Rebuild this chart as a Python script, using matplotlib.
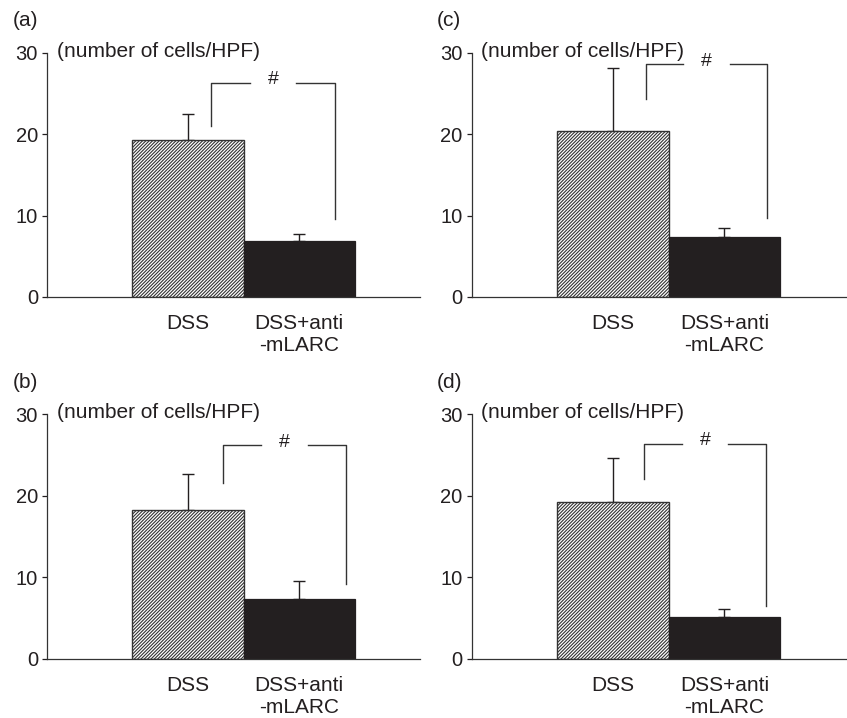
import matplotlib
matplotlib.use("Agg")
import matplotlib.pyplot as plt

plt.rcParams["font.family"] = ["Liberation Sans", "DejaVu Sans"]
plt.rcParams["hatch.linewidth"] = 0.8

# panels in order (a), (b), (c), (d)
panels = ["(a)", "(b)", "(c)", "(d)"]
groups = ["DSS", "DSS+anti\n-mLARC"]
dss_mean = [19.3, 18.3, 20.4, 19.3]
dss_err = [3.2, 4.4, 7.8, 5.3]
anti_mean = [6.9, 7.3, 7.4, 5.1]
anti_err = [0.8, 2.25, 1.1, 1.0]
# significance bracket: top level, left foot, right foot
br_top = [26.3, 26.2, 28.6, 26.4]
br_left = [21.0, 21.6, 24.3, 22.1]
br_right = [9.6, 9.2, 9.75, 6.5]
yticks = [0, 10, 20, 30]

# layout (figure fractions) and bracket x-positions per panel
rects = {
    "(a)": [0.0555, 0.5864, 0.4404, 0.3398],
    "(c)": [0.5569, 0.5864, 0.4431, 0.3398],
    "(b)": [0.0555, 0.0822, 0.4404, 0.3408],
    "(d)": [0.5569, 0.0822, 0.4431, 0.3408],
}
br_x = [(0.21, 1.32), (0.315, 1.42), (0.295, 1.38), (0.28, 1.37)]
label_pos = {"(a)": (0.015, 0.972), "(c)": (0.516, 0.972),
             "(b)": (0.015, 0.467), "(d)": (0.516, 0.467)}

ink = "#231f20"
fs = 15

fig = plt.figure(figsize=(8.47, 7.18), dpi=100)

for i, p in enumerate(panels):
    ax = fig.add_axes(rects[p])
    ax.bar([0], [dss_mean[i]], width=1.0, color="white", edgecolor="#333333",
           hatch="//////////", linewidth=1.0, zorder=2)
    ax.bar([1], [anti_mean[i]], width=1.0, color=ink, edgecolor=ink,
           linewidth=0.9, zorder=2)
    ax.errorbar([0, 1], [dss_mean[i], anti_mean[i]],
                yerr=[[0, 0], [dss_err[i], anti_err[i]]],
                fmt="none", ecolor=ink, elinewidth=1.0, capsize=4.3,
                capthick=1.0, zorder=1)

    # bracket with gap for '#'
    xl, xr = br_x[i]
    xm = (xl + xr) / 2
    gap = 0.21
    lc = "#333333"
    ax.plot([xl, xl, xm - gap], [br_left[i], br_top[i], br_top[i]],
            color=lc, lw=1.0, clip_on=False)
    ax.plot([xm + gap, xr, xr], [br_top[i], br_top[i], br_right[i]],
            color=lc, lw=1.0, clip_on=False)
    ax.text(xm, br_top[i] + 0.4, "#", ha="center", va="center", fontsize=fs - 1,
            color=ink)

    ax.set_ylim(0, 30)
    ax.set_xlim(-1.27, 2.09 if p in ("(a)", "(b)") else 2.1)
    ax.set_yticks(yticks)
    ax.set_xticks([0, 1])
    ax.set_xticklabels(groups, fontsize=fs, linespacing=1.2)
    ax.tick_params(axis="x", length=0, pad=12, colors=ink)
    ax.tick_params(axis="y", length=3.5, width=0.9, pad=3, labelsize=fs - 0.5,
                   colors=ink)
    for s in ("top", "right"):
        ax.spines[s].set_visible(False)
    for s in ("left", "bottom"):
        ax.spines[s].set_linewidth(0.9)
        ax.spines[s].set_color("#333333")

    ax.annotate("(number of cells/HPF)", xy=(0, 1), xycoords="axes fraction",
                xytext=(7, 1), textcoords="offset points", ha="left",
                va="center", fontsize=fs, color=ink, annotation_clip=False)

    lx, ly = label_pos[p]
    fig.text(lx, ly, p, fontsize=fs, color=ink, ha="left", va="center")

fig.savefig("out.png", dpi=100)
